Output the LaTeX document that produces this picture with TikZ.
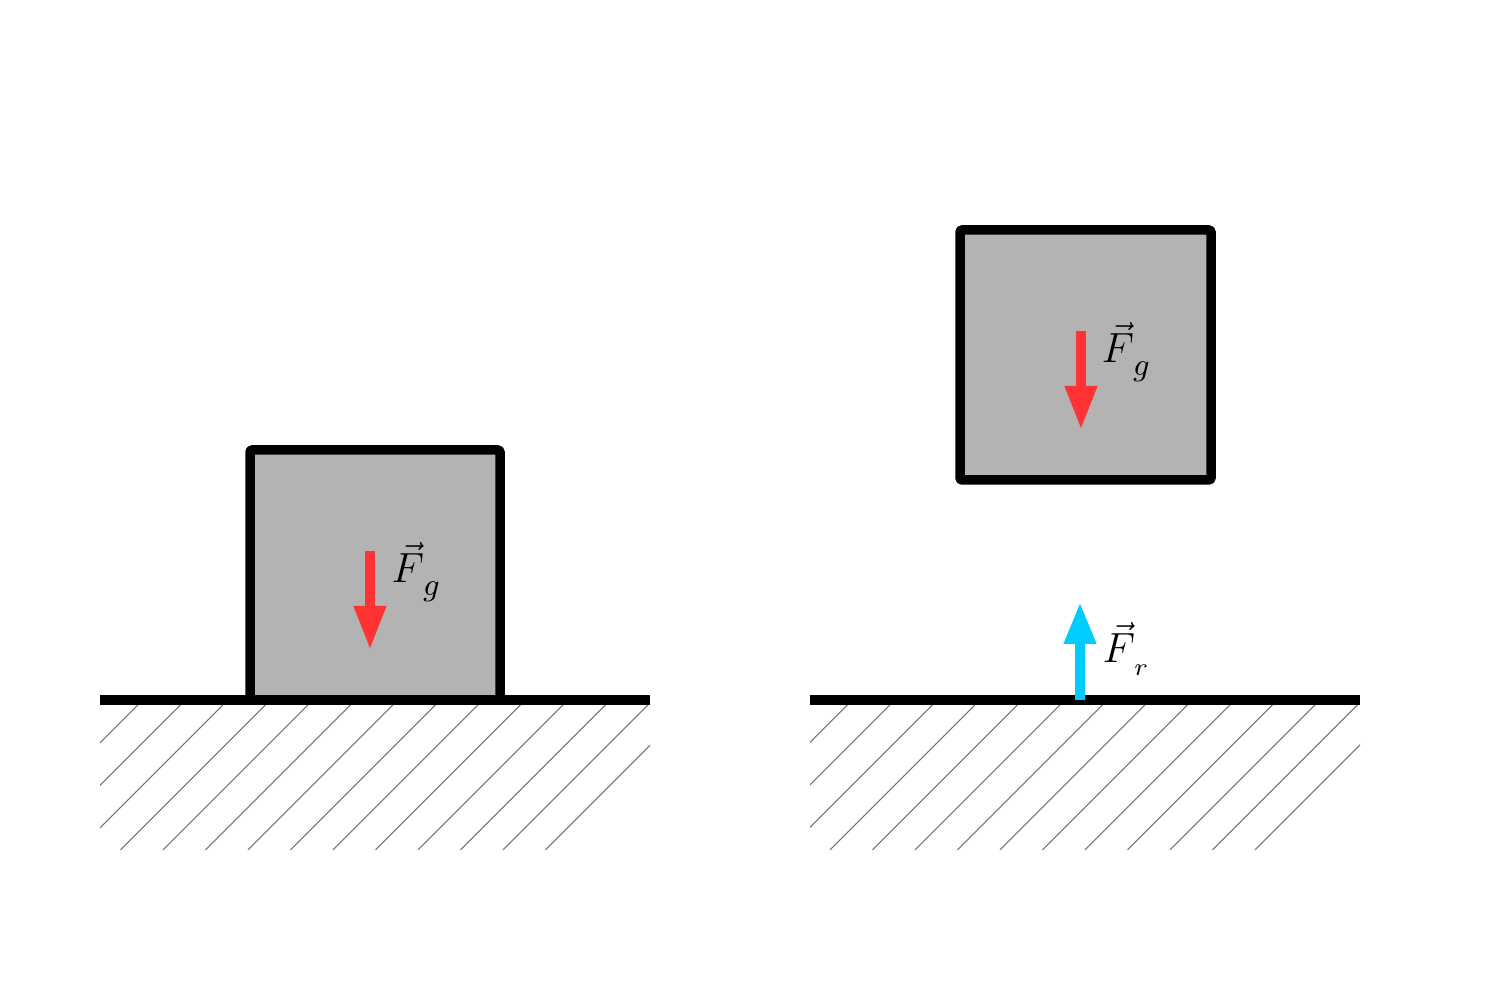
\documentclass[tikz,border=0pt]{standalone}
\usetikzlibrary{arrows.meta}
\definecolor{boxgray}{RGB}{179,179,179}
\definecolor{forcered}{RGB}{255,51,51}
\definecolor{forcecyan}{RGB}{0,204,255}
\newcommand{\sublabel}[2]{\raisebox{-1.3mm}{\fontsize{#1}{#1}\selectfont$#2$}}
\begin{document}
\begin{tikzpicture}[x=1cm,y=1cm,
  hatchline/.style={black!55, line width=0.3pt},
  groundline/.style={line width=0.1cm, line cap=butt},
  block/.style={draw=black, fill=boxgray, line width=0.095cm, line join=round, rounded corners=0.4pt, inner sep=0pt},
  force/.style={line width=0.1cm, -{Triangle[length=0.44cm,width=0.3cm]}},
  lab/.style={inner sep=0pt, anchor=base west, font=\fontsize{13}{15}\selectfont}]
\useasboundingbox (0,0) rectangle (15,10);

% ---------- left scene ----------
\begin{scope}
  \clip (1,1.5) rectangle (6.5,2.95);
  \foreach \k in {-4,...,13} \draw[hatchline] ({1.38+0.425*\k},2.95) -- ++(-1.45,-1.45);
\end{scope}
\node[block, minimum width=2.5cm, minimum height=2.5cm] (blockL) at (3.75,4.25) {};
\coordinate (gLa) at (1,3);
\coordinate (gLb) at (6.5,3);
\draw[groundline] (gLa) -- (gLb);
\coordinate (aLs) at (3.70,4.49);
\coordinate (aLe) at (3.70,3.50);
\draw[force, forcered] (aLs) -- (aLe);
\node[lab] (FgL) at (3.91,4.17) {$\vec{F}$\kern-0.3pt\sublabel{9}{g}};

% ---------- right scene ----------
\begin{scope}
  \clip (8.1,1.5) rectangle (13.6,2.95);
  \foreach \k in {-4,...,13} \draw[hatchline] ({8.475+0.425*\k},2.95) -- ++(-1.45,-1.45);
\end{scope}
\coordinate (gRa) at (8.1,3);
\coordinate (gRb) at (13.6,3);
\draw[groundline] (gRa) -- (gRb);
\node[block, minimum width=2.51cm, minimum height=2.5cm] (blockR) at (10.855,6.45) {};
\coordinate (aRs) at (10.81,6.69);
\coordinate (aRe) at (10.81,5.70);
\draw[force, forcered] (aRs) -- (aRe);
\node[lab] (FgR) at (11.01,6.37) {$\vec{F}$\kern-0.3pt\sublabel{9}{g}};

\coordinate (nRs) at (10.80,3.00);
\coordinate (nRe) at (10.80,3.98);
\draw[line width=0.1cm, forcecyan, -{Triangle[length=0.42cm,width=0.3cm]}] (nRs) -- (nRe);
\node[lab] (Fr) at (11.02,3.37) {$\vec{F}$\kern-0.3pt\sublabel{7}{r}};
\end{tikzpicture}
\end{document}
